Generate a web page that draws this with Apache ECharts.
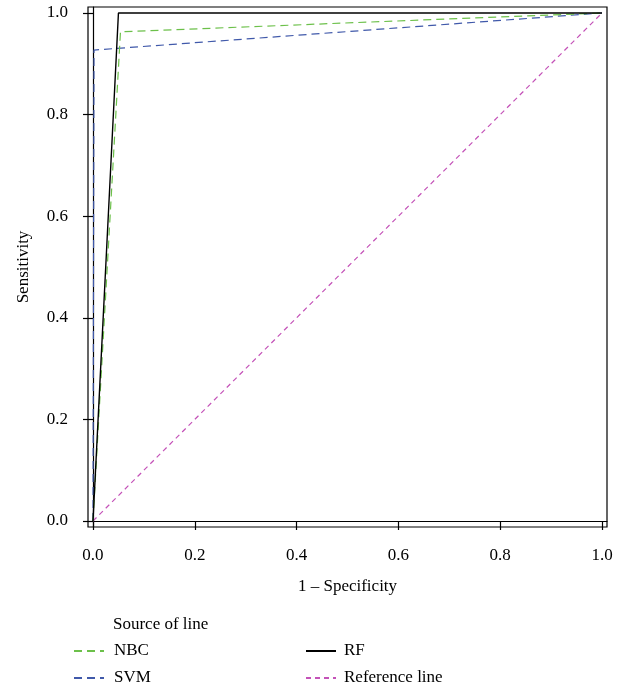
<!DOCTYPE html>
<html>
<head>
<meta charset="utf-8">
<script src="https://cdn.jsdelivr.net/npm/echarts@6/dist/echarts.min.js"></script>
<style>
html,body{margin:0;padding:0;background:#fff;}
#chart{width:631px;height:691px;}
</style>
</head>
<body>
<div id="chart"></div>
<script>
// Tick values
const xTicks = [0, 0.2, 0.4, 0.6, 0.8, 1.0];
const yTicks = [0, 0.2, 0.4, 0.6, 0.8, 1.0];

// ROC curves (1 - Specificity, Sensitivity)
const nbcX = [0, 0.054, 1];
const nbcY = [0, 0.963, 1];
const svmX = [0, 0.002, 1];
const svmY = [0, 0.927, 1];
const rfX  = [0, 0.050, 1];
const rfY  = [0, 1.000, 1];
const refX = [0, 1];
const refY = [0, 1];

const seriesNames = ['NBC', 'SVM', 'RF', 'Reference line'];

const FONT = 'Liberation Serif';
const FS = 17;
const pair = (xs, ys) => xs.map((x, i) => [x, ys[i]]);

const chart = echarts.init(document.getElementById('chart'));
chart.setOption({
  animation: false,
  backgroundColor: '#fff',
  textStyle: { fontFamily: FONT, color: '#000' },
  grid: { left: 88, right: 24, top: 7, bottom: 164, show: true, borderColor: '#000', borderWidth: 1.2, backgroundColor: 'transparent' },
  title: {
    text: 'Source of line', left: 108, top: 611,
    textStyle: { fontFamily: FONT, fontSize: FS, fontWeight: 'normal', color: '#000' }
  },
  legend: [
    {
      data: ['NBC', 'SVM'], orient: 'vertical', left: 68, top: 637, height: 60,
      itemWidth: 30, itemHeight: 14, itemGap: 9,
      itemStyle: { opacity: 0 },
      textStyle: { fontFamily: FONT, fontSize: FS, lineHeight: 18, color: '#000', padding: [0, 0, 0, 5] }
    },
    {
      data: ['RF', 'Reference line'], orient: 'vertical', left: 300, top: 637, height: 60,
      itemWidth: 30, itemHeight: 14, itemGap: 9,
      itemStyle: { opacity: 0 },
      textStyle: { fontFamily: FONT, fontSize: FS, lineHeight: 18, color: '#000', padding: [0, 0, 0, 3] }
    }
  ],
  xAxis: {
    type: 'value', min: -0.0098, max: 1.0098,
    name: '1 – Specificity', nameLocation: 'middle', nameGap: 51,
    nameTextStyle: { fontFamily: FONT, fontSize: FS, color: '#000' },
    axisLine: { show: true, lineStyle: { color: '#000', width: 1.2 } },
    axisTick: { show: true, inside: false, length: 9, customValues: xTicks, lineStyle: { color: '#000', width: 1.2 } },
    axisLabel: { customValues: xTicks, margin: 20, fontFamily: FONT, fontSize: FS, color: '#000', formatter: v => v.toFixed(1) },
    splitLine: { show: false }
  },
  yAxis: {
    type: 'value', min: -0.0118, max: 1.0118,
    name: 'Sensitivity', nameLocation: 'middle', nameGap: 56,
    nameTextStyle: { fontFamily: FONT, fontSize: FS, color: '#000' },
    axisLine: { show: true, lineStyle: { color: '#000', width: 1.2 } },
    axisTick: { show: true, inside: false, length: 10, customValues: yTicks, lineStyle: { color: '#000', width: 1.2 } },
    axisLabel: { customValues: yTicks, margin: 20, fontFamily: FONT, fontSize: FS, color: '#000', formatter: v => v.toFixed(1) },
    splitLine: { show: false }
  },
  series: [
    { name: seriesNames[3], type: 'line', data: pair(refX, refY), symbol: 'none', color: '#c452b8',
      lineStyle: { color: '#c452b8', width: 1.2, type: [5, 4] } },
    { name: seriesNames[1], type: 'line', data: pair(svmX, svmY), symbol: 'none', color: '#4059aa',
      lineStyle: { color: '#4059aa', width: 1.2, type: [8, 5] } },
    { name: seriesNames[0], type: 'line', data: pair(nbcX, nbcY), symbol: 'none', color: '#6cc04a',
      lineStyle: { color: '#6cc04a', width: 1.2, type: [8, 5] } },
    { name: seriesNames[2], type: 'line', data: pair(rfX, rfY), symbol: 'none', color: '#000',
      lineStyle: { color: '#000', width: 1.4, type: 'solid' } }
  ]
});
</script>
</body>
</html>
